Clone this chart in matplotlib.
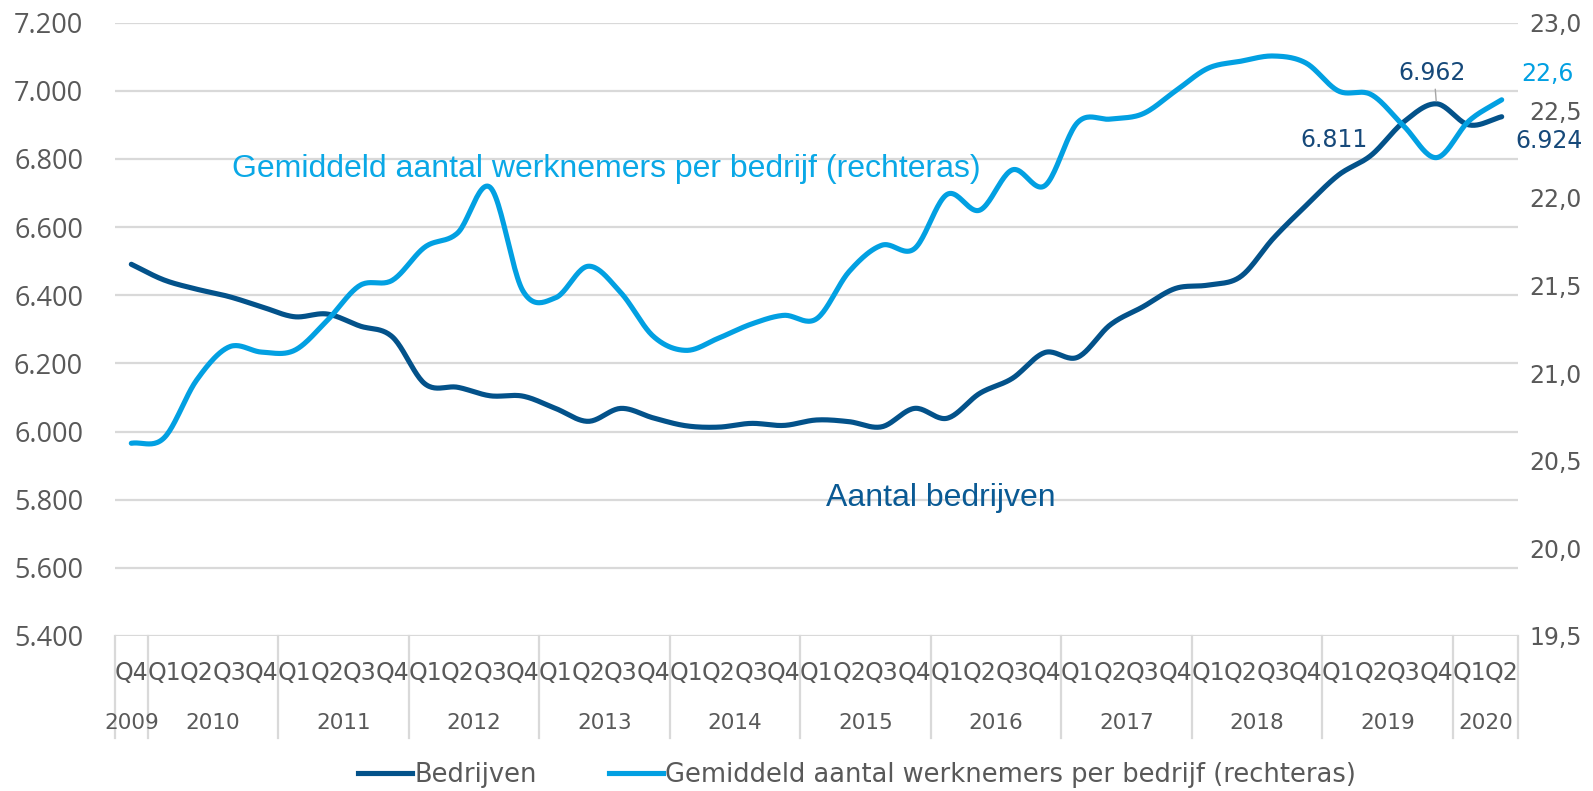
import numpy as np
import matplotlib
matplotlib.use("Agg")
import matplotlib.pyplot as plt
import matplotlib.transforms as mtransforms
from matplotlib.lines import Line2D

# data (2009 Q4 .. 2020 Q2)
quarters = ["Q4"] + ["Q1", "Q2", "Q3", "Q4"] * 10 + ["Q1", "Q2"]
years = ["2009", "2010", "2011", "2012", "2013", "2014", "2015",
         "2016", "2017", "2018", "2019", "2020"]
year_sizes = [1, 4, 4, 4, 4, 4, 4, 4, 4, 4, 4, 2]

bedrijven = [6491, 6445, 6418, 6396, 6366, 6337, 6345, 6310, 6278, 6140,
             6130, 6105, 6104, 6068, 6030, 6068, 6040, 6017, 6013, 6024,
             6018, 6034, 6029, 6014, 6068, 6039, 6112, 6156, 6232, 6218,
             6313, 6366, 6420, 6430, 6455, 6567, 6663, 6753, 6811, 6909,
             6962, 6900, 6924]

werknemers = [20.60, 20.63, 20.96, 21.15, 21.12, 21.13, 21.30, 21.50, 21.53, 21.72,
              21.80, 22.06, 21.47, 21.43, 21.61, 21.46, 21.21, 21.13, 21.20, 21.28,
              21.33, 21.31, 21.58, 21.73, 21.71, 22.02, 21.93, 22.16, 22.07, 22.43,
              22.45, 22.48, 22.61, 22.74, 22.78, 22.81, 22.77, 22.61, 22.59, 22.41,
              22.23, 22.44, 22.56]

left_ticks = [5400, 5600, 5800, 6000, 6200, 6400, 6600, 6800, 7000, 7200]
right_ticks = [19.5, 20.0, 20.5, 21.0, 21.5, 22.0, 22.5, 23.0]

DARK = "#03528A"
LIGHT = "#02A0E2"
GREY_TXT = "#595959"
GRID = "#D9D9D9"
OPEN = ["Open Sans", "DejaVu Sans"]
CAL = ["DejaVu Sans"]
ARIAL = ["Liberation Sans", "DejaVu Sans"]


# excel style smoothed line (catmull-rom through the points)
def smooth(y, n=24):
    y = np.asarray(y, float)
    p = np.concatenate([[2 * y[0] - y[1]], y, [2 * y[-1] - y[-2]]])
    t = np.linspace(0, 1, n, endpoint=False)
    xs, ys = [], []
    for i in range(len(y) - 1):
        p0, p1, p2, p3 = p[i], p[i + 1], p[i + 2], p[i + 3]
        m1 = (p2 - p0) / 2
        m2 = (p3 - p1) / 2
        h00 = 2 * t**3 - 3 * t**2 + 1
        h10 = t**3 - 2 * t**2 + t
        h01 = -2 * t**3 + 3 * t**2
        h11 = t**3 - t**2
        ys.append(h00 * p1 + h10 * m1 + h01 * p2 + h11 * m2)
        xs.append(i + t)
    xs.append([len(y) - 1])
    ys.append([y[-1]])
    return np.concatenate(xs), np.concatenate(ys)


fig = plt.figure(figsize=(15.93, 7.91), dpi=100)
ax = fig.add_axes([115 / 1593, 155 / 791, 1403 / 1593, 613.3 / 791])
ax2 = ax.twinx()

n = len(bedrijven)
ax.set_xlim(-0.5, n - 0.5)
ax.set_ylim(5400, 7200)
ax2.set_ylim(19.5, 23.0)

ax.set_yticks(left_ticks)
ax.set_yticklabels([f"{v:,}".replace(",", ".") for v in left_ticks],
                   family=OPEN, fontsize=19.5, color=GREY_TXT)
ax2.set_yticks(right_ticks)
ax2.set_yticklabels([f"{v:.1f}".replace(".", ",") for v in right_ticks],
                    family=CAL, fontsize=17, color=GREY_TXT)
ax.tick_params(axis="y", length=0, pad=23)
ax2.tick_params(axis="y", length=0, pad=8)
ax.set_xticks([])
ax.grid(axis="y", color=GRID, lw=1.6)
ax.set_axisbelow(True)
for a in (ax, ax2):
    for s in a.spines.values():
        s.set_visible(False)

# lines
x1, y1 = smooth(bedrijven)
ax.plot(x1, y1, color=DARK, lw=3.7, solid_capstyle="round", zorder=3)
x2, y2 = smooth(werknemers)
ax2.plot(x2, y2, color=LIGHT, lw=3.7, solid_capstyle="round", zorder=3)

# category axis: quarters, years and separators
trans = mtransforms.blended_transform_factory(ax.transData, ax.transAxes)
for i, q in enumerate(quarters):
    ax.text(i, -0.0717, q, transform=trans, ha="center", va="baseline",
            family=CAL, fontsize=17, color=GREY_TXT)
start = -0.5
bounds = [start]
for yr, sz in zip(years, year_sizes):
    ax.text(start + sz / 2, -0.1516, yr, transform=trans, ha="center", va="baseline",
            family=CAL, fontsize=15.5, color=GREY_TXT)
    start += sz
    bounds.append(start)
for b in bounds:
    ax.plot([b, b], [0, -0.166], transform=trans, color=GRID, lw=1.6,
            clip_on=False, zorder=1)

# series annotations
ax.text(0.0834, 0.749, "Gemiddeld aantal werknemers per bedrijf (rechteras)",
        transform=ax.transAxes, family=ARIAL, fontsize=23, color="#0AA8E6",
        ha="left", va="baseline")
ax.text(0.5068, 0.212, "Aantal bedrijven", transform=ax.transAxes,
        family=ARIAL, fontsize=23, color="#0A5A94", ha="left", va="baseline")


# data labels
def fmt_left(v):
    return f"{v:,}".replace(",", ".")


ax.annotate(fmt_left(bedrijven[38]), xy=(38, bedrijven[38]), xytext=(-26.6, 6),
            textcoords="offset points", ha="center", va="baseline",
            family=CAL, fontsize=17, color="#16497A", zorder=5)
ax.annotate(fmt_left(bedrijven[40]), xy=(40, bedrijven[40]), xytext=(-3.5, 17.1),
            textcoords="offset points", ha="center", va="baseline",
            family=CAL, fontsize=17, color="#16497A", zorder=5,
            arrowprops=dict(arrowstyle="-", color="#A6A6A6", lw=1,
                            shrinkA=1, shrinkB=2, relpos=(0.55, 0)))
ax.annotate(fmt_left(bedrijven[42]), xy=(42, bedrijven[42]), xytext=(33.8, -22.8),
            textcoords="offset points", ha="center", va="baseline",
            family=CAL, fontsize=17, color="#16497A", annotation_clip=False)
ax2.annotate(f"{werknemers[42]:.1f}".replace(".", ","), xy=(42, werknemers[42]),
             xytext=(33.1, 13.8), textcoords="offset points", ha="center",
             va="baseline", family=CAL, fontsize=17, color=LIGHT,
             annotation_clip=False)

# legend
handles = [Line2D([], [], color=DARK, lw=3.7),
           Line2D([], [], color=LIGHT, lw=3.7)]
fig.legend(handles, ["Bedrijven", "Gemiddeld aantal werknemers per bedrijf (rechteras)"],
           loc="center", bbox_to_anchor=(857 / 1593, 16 / 791), ncol=2,
           frameon=False, prop={"family": CAL, "size": 18.5}, labelcolor=GREY_TXT,
           handlelength=2.1, handletextpad=0.1, columnspacing=2.8)

fig.savefig("out.png", dpi=100, facecolor="white")
